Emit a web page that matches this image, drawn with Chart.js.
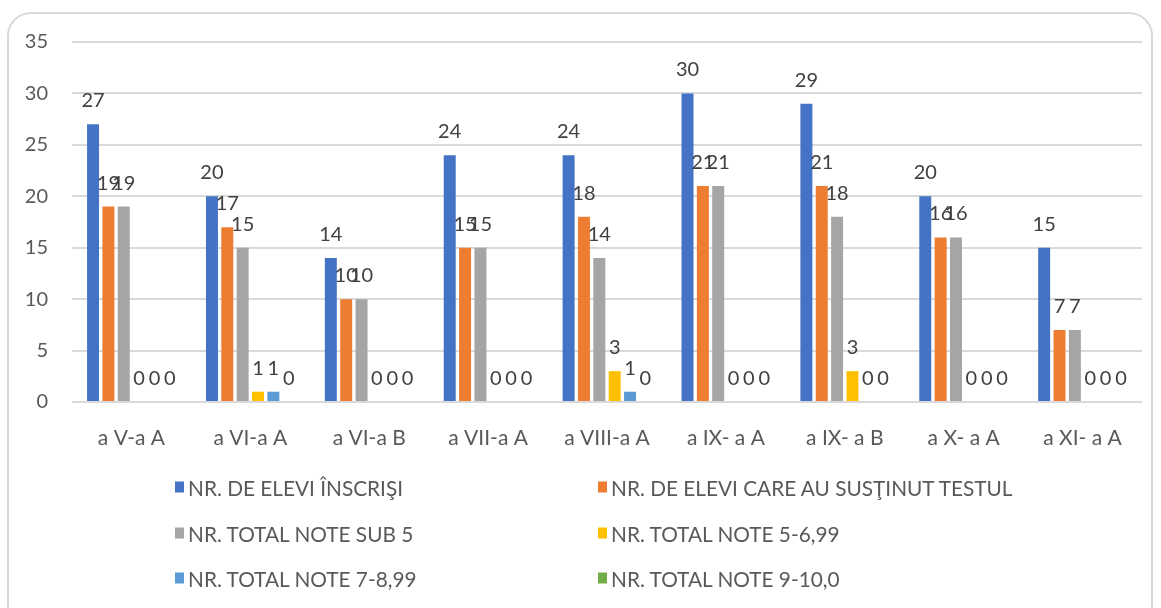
<!DOCTYPE html>
<html>
<head>
<meta charset="utf-8">
<script src="https://cdn.jsdelivr.net/npm/chart.js@4.4.1/dist/chart.umd.min.js"></script>
<style>
  body { margin: 0; background: #fff; width: 1161px; height: 608px; overflow: hidden; position: relative; font-family: Lato, sans-serif; }
  .frame { position: absolute; left: 7px; top: 12px; width: 1146px; height: 640px; border: 2px solid #d9d9d9; border-radius: 24px; box-sizing: border-box; }
  .wrap { position: absolute; left: 0; top: 0; width: 1161px; height: 460px; }
  #legend { position: absolute; left: 0; top: 0; width: 1161px; height: 608px; pointer-events: none; }
  .item { position: absolute; display: flex; align-items: center; font-size: 20.8px; color: #595959; white-space: nowrap; transform: translateY(-50%); }
  .box { width: 9px; height: 11px; margin-right: 4px; }
</style>
</head>
<body>
<div class="frame"></div>
<div class="wrap"><canvas id="chart" width="1161" height="460"></canvas></div>
<div id="legend"></div>
<script>
const categories = ['a V-a A', 'a VI-a A', 'a VI-a B', 'a VII-a A', 'a VIII-a A', 'a IX- a A', 'a IX- a B', 'a X- a A', 'a XI- a A']
const seriesNames = [
  'NR. DE ELEVI ÎNSCRIŞI',
  'NR. DE ELEVI CARE AU SUSŢINUT TESTUL',
  'NR. TOTAL NOTE SUB 5',
  'NR. TOTAL NOTE 5-6,99',
  'NR. TOTAL NOTE 7-8,99',
  'NR. TOTAL NOTE 9-10,0',
]
const inscrisi = [27, 20, 14, 24, 24, 30, 29, 20, 15]
const sustinut = [19, 17, 10, 15, 18, 21, 21, 16, 7]
const noteSub5 = [19, 15, 10, 15, 14, 21, 18, 16, 7]
const note5la699 = [0, 1, 0, 0, 3, 0, 3, 0, 0]
const note7la899 = [0, 1, 0, 0, 1, 0, 0, 0, 0]
const note9la10 = [0, 0, 0, 0, 0, 0, 0, 0, 0]
const yTicks = [0, 5, 10, 15, 20, 25, 30, 35]

const colors = ['#4472C4', '#ED7D31', '#A5A5A5', '#FFC000', '#5B9BD5', '#70AD47']
const values = [inscrisi, sustinut, noteSub5, note5la699, note7la899, note9la10]

// value labels above each bar, Excel style
const barLabels = {
  id: 'barLabels',
  afterDatasetsDraw(chart) {
    const ctx = chart.ctx
    ctx.save()
    ctx.font = '20px Lato'
    ctx.fillStyle = '#404040'
    ctx.textAlign = 'center'
    ctx.textBaseline = 'alphabetic'
    chart.data.datasets.forEach((ds, i) => {
      chart.getDatasetMeta(i).data.forEach((bar, j) => {
        ctx.fillText(String(ds.data[j]), bar.x, bar.y - 17)
      })
    })
    ctx.restore()
  },
}

new Chart(document.getElementById('chart'), {
  type: 'bar',
  data: {
    labels: categories,
    datasets: values.map((v, i) => ({
      label: seriesNames[i],
      data: v,
      backgroundColor: colors[i],
      barPercentage: 0.78,
      categoryPercentage: 0.775,
    })),
  },
  options: {
    responsive: false,
    animation: false,
    devicePixelRatio: 1,
    layout: { padding: { top: 42, right: 19, bottom: 0, left: 0 } },
    plugins: { legend: { display: false }, tooltip: { enabled: false } },
    scales: {
      x: {
        grid: { display: false },
        border: { display: false },
        ticks: { color: '#595959', font: { family: 'Lato', size: 21 }, padding: 16 },
        afterFit: (s) => { s.height = 58 },
      },
      y: {
        min: 0,
        max: 35,
        afterBuildTicks: (s) => { s.ticks = yTicks.map((v) => ({ value: v })) },
        grid: { color: '#d9d9d9', lineWidth: 2, drawTicks: false },
        border: { display: false },
        ticks: { color: '#595959', font: { family: 'Lato', size: 20 }, padding: 24 },
        afterFit: (s) => { s.width = 72 },
      },
    },
  },
  plugins: [barLabels],
})

const legendPos = [[175, 487], [598, 487], [175, 533], [598, 533], [175, 578], [598, 578]]
const legend = document.getElementById('legend')
seriesNames.forEach((name, i) => {
  const el = document.createElement('div')
  el.className = 'item'
  el.style.left = legendPos[i][0] + 'px'
  el.style.top = legendPos[i][1] + 'px'
  el.innerHTML = '<span class="box" style="background:' + colors[i] + '"></span><span></span>'
  el.lastChild.textContent = name
  legend.appendChild(el)
})
</script>
</body>
</html>
